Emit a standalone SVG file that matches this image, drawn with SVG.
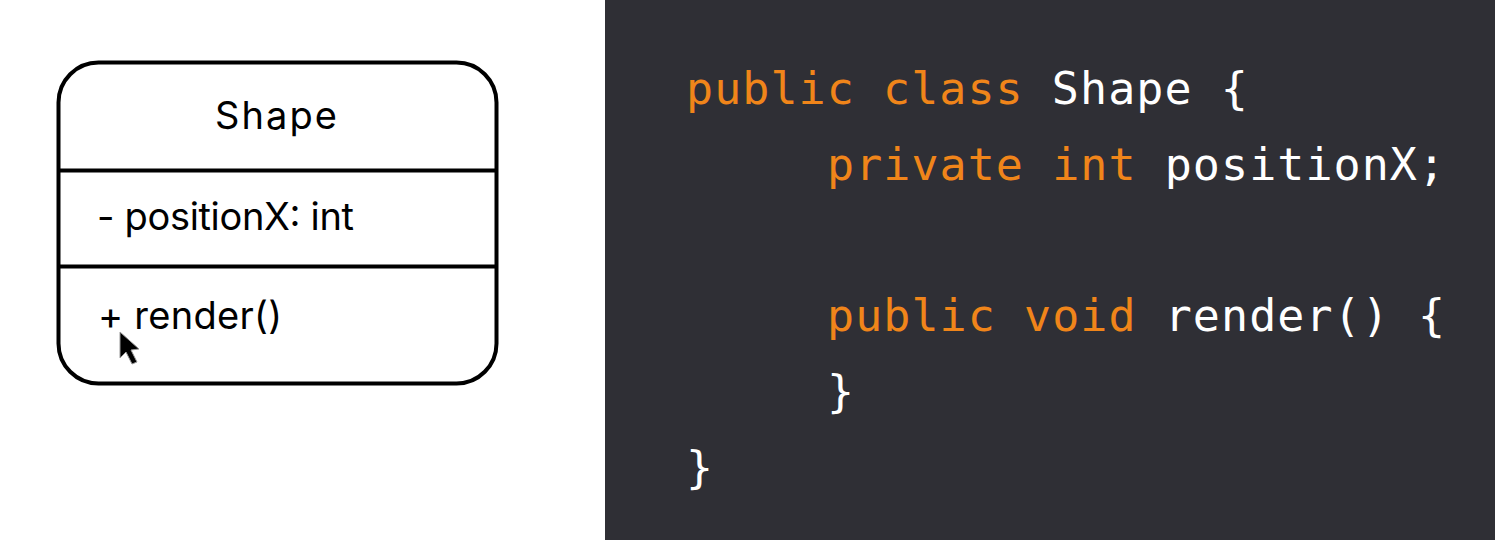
<svg xmlns="http://www.w3.org/2000/svg" width="1495" height="540" viewBox="0 0 1495 540">
<style>
.u{font-family:"Inter","Noto Sans",sans-serif;font-size:38px;font-weight:400;fill:#000}
.c{font-family:"DejaVu Sans Mono","Liberation Mono",monospace;font-size:45px;letter-spacing:1.05px}
.k{fill:#f0851a}.w{fill:#fff}
</style>
<rect width="1495" height="540" fill="#fff"/>
<g id="shape-class">
<rect x="58.500" y="62.500" width="438" height="321" rx="40" fill="#fff" stroke="#000" stroke-width="4"/>
<path d="M58.500 170.500H496.500M58.500 266.500H496.500" stroke="#000" stroke-width="4" fill="none"/>
<text class="u" x="215" y="129" textLength="122" lengthAdjust="spacing">Shape</text>
<text class="u" x="97" y="230" textLength="257" lengthAdjust="spacing">- positionX: int</text>
<text class="u" x="98" y="329" textLength="184" lengthAdjust="spacing">+ render()</text>
<path d="M120 332L120 358L126 352L132 364L137 362L131 350L139 349Z" fill="#000" stroke="#999" stroke-width="1"/>
</g>
<g id="code">
<rect x="605" y="0" width="890" height="540" fill="#2f2f35"/>
<text class="c" x="686" y="104"><tspan class="k">public class</tspan><tspan class="w"> Shape {</tspan></text>
<text class="c" x="827" y="180"><tspan class="k">private int</tspan><tspan class="w"> positionX;</tspan></text>
<text class="c" x="827" y="331"><tspan class="k">public void</tspan><tspan class="w"> render() {</tspan></text>
<text class="c w" x="827" y="407">}</text>
<text class="c w" x="686" y="483">}</text>
</g>
</svg>
